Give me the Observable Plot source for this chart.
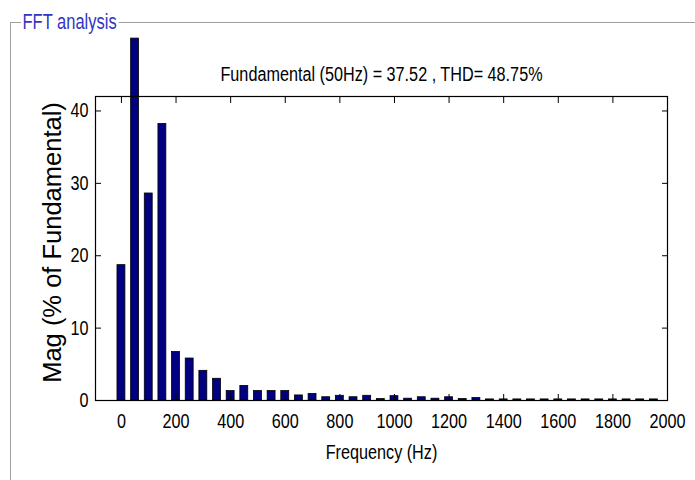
<!DOCTYPE html>
<html>
<head>
<meta charset="utf-8">
<script src="https://cdn.jsdelivr.net/npm/d3@7"></script>
<script src="https://cdn.jsdelivr.net/npm/@observablehq/plot@0.6"></script>
<style>
  html, body { margin: 0; padding: 0; background: #fff; }
  #wrap { position: relative; width: 695px; height: 480px; overflow: hidden; }
  #chart { position: absolute; left: 0; top: 0; }
  #box { position: absolute; left: 10px; top: 22px; right: -2px; bottom: -2px;
         border-top: 1px solid #a0a0a0; border-left: 1px solid #a0a0a0; }
  #boxTitle { position: absolute; left: 21px; top: 9px; padding: 0 2px; background: #fff;
              color: #3434c4; font: 22px "Liberation Sans", Arial, sans-serif; line-height: 25px;
              transform: scaleX(0.75); transform-origin: 0 50%; white-space: nowrap; }
</style>
</head>
<body>
<div id="wrap">
  <div id="chart"></div>
  <div id="box"></div>
  <div id="boxTitle">FFT analysis</div>
</div>
<script>
// Harmonic frequencies (Hz)
const freq = [0, 50, 100, 150, 200, 250, 300, 350, 400, 450,
              500, 550, 600, 650, 700, 750, 800, 850, 900, 950,
              1000, 1050, 1100, 1150, 1200, 1250, 1300, 1350, 1400, 1450,
              1500, 1550, 1600, 1650, 1700, 1750, 1800, 1850, 1900, 1950];
// Magnitude (% of fundamental) (50 Hz bar runs past the axes)
const mag = [18.7, 50, 28.6, 38.2, 6.7, 5.8, 4.1, 3.0, 1.3, 2.0,
             1.3, 1.3, 1.3, 0.7, 0.9, 0.45, 0.65, 0.45, 0.65, 0.2,
             0.6, 0.25, 0.45, 0.25, 0.45, 0.2, 0.35, 0.15, 0.15, 0.15,
             0.15, 0.15, 0.15, 0.15, 0.15, 0.15, 0.15, 0.15, 0.15, 0.15];
const xTicks = [0, 200, 400, 600, 800, 1000, 1200, 1400, 1600, 1800, 2000];
const yTicks = [0, 10, 20, 30, 40];
const titleText = "Fundamental (50Hz) = 37.52 , THD= 48.75%";
const xLabel = "Frequency (Hz)";
const yLabel = "Mag (% of Fundamental)";

const data = freq.map((f, i) => ({f, m: mag[i]}));
const halfW = 14.5;
const regular = "'Liberation Sans', Arial, sans-serif";

const chart = Plot.plot({
  width: 695,
  height: 480,
  marginLeft: 95,
  marginRight: 28,
  marginTop: 96,
  marginBottom: 80,
  style: {background: "transparent", fontFamily: regular, fontSize: "20px", color: "#000"},
  x: {domain: [-95, 2000], label: null},
  y: {domain: [0, 42], label: null},
  marks: [
    Plot.rectY(data, {x1: d => d.f - halfW, x2: d => d.f + halfW, y1: 0, y2: "m",
                      fill: "#000080", stroke: "#000", strokeWidth: 0.8}),
    Plot.frame({stroke: "#000", strokeWidth: 1.2}),
    Plot.axisX({anchor: "bottom", ticks: xTicks, tickSize: -6, tickPadding: 19,
                tickFormat: d => String(d), fontSize: 20, label: null}),
    Plot.axisX({anchor: "top", ticks: xTicks, tickSize: -6, tickFormat: () => "", label: null}),
    Plot.axisY({anchor: "left", ticks: yTicks, tickSize: -6, tickPadding: 13,
                tickFormat: d => String(d), fontSize: 20, label: null}),
    Plot.axisY({anchor: "right", ticks: yTicks, tickSize: -6, tickFormat: () => "", label: null}),
    Plot.text([titleText], {frameAnchor: "top", dy: -30, fontSize: 20, fill: "#000"}),
    Plot.text([xLabel], {frameAnchor: "bottom", dy: 58, fontSize: 20, fill: "#000"}),
    Plot.text([yLabel], {frameAnchor: "left", textAnchor: "middle", dx: -43, dy: -6, rotate: -90,
                         fontSize: 25.5, fill: "#000", className: "ylab"})
  ]
});
document.getElementById("chart").appendChild(chart);

// Emulate the condensed (Arial Narrow–like) face of the original: squeeze glyphs horizontally
chart.querySelectorAll("text").forEach(t => {
  if (t.closest(".ylab")) return;
  const content = t.textContent;
  if (!content) return;
  const len = t.getComputedTextLength();
  if (len > 0) {
    t.setAttribute("textLength", (len * 0.81).toFixed(2));
    t.setAttribute("lengthAdjust", "spacingAndGlyphs");
  }
});
</script>
</body>
</html>
